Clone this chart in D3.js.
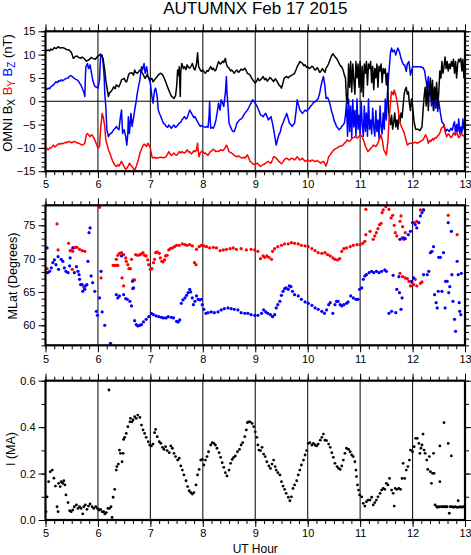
<!DOCTYPE html>
<html><head><meta charset="utf-8">
<script src="https://cdn.jsdelivr.net/npm/d3@7"></script>
<style>
html,body{margin:0;padding:0;background:#fff;}
svg{display:block;}
text{font-family:"Liberation Sans",Arial,Helvetica,sans-serif;fill:#000;}
</style></head>
<body><svg id="c" width="471" height="555"></svg>
<script>
// ---------------- DATA ----------------
const title = "AUTUMNX Feb 17 2015";
const hourTicks = [5,6,7,8,9,10,11,12,13];
const gridHours = [6,7,8,9,10,11,12];
const imfTicks = [-15,-10,-5,0,5,10,15];
const mlatTicks = [60,65,70,75];
const curTicks = [0.0,0.2,0.4,0.6];

// OMNI Bx (black) [UT hour, nT]
const bx = [[5.00,10.6],[5.03,10.9],[5.05,11.0],[5.08,10.8],[5.10,11.2],[5.13,11.0],[5.17,11.5],[5.20,11.3],[5.25,11.7],[5.28,11.4],[5.33,11.5],[5.37,11.3],[5.40,11.1],[5.45,11.0],[5.48,10.6],[5.50,10.3],[5.53,9.2],[5.57,9.6],[5.60,9.7],[5.63,9.4],[5.67,9.2],[5.70,9.5],[5.75,9.0],[5.78,8.6],[5.83,8.9],[5.87,9.4],[5.90,9.2],[5.95,9.0],[6.00,9.7],[6.03,9.9],[6.05,10.1],[6.08,9.6],[6.10,9.0],[6.13,6.7],[6.15,4.5],[6.17,3.1],[6.20,1.0],[6.22,1.8],[6.25,2.1],[6.28,2.6],[6.30,3.1],[6.33,2.7],[6.35,3.5],[6.40,3.1],[6.43,3.9],[6.45,4.6],[6.50,4.9],[6.53,4.2],[6.55,4.2],[6.58,5.5],[6.60,6.0],[6.65,6.1],[6.68,5.6],[6.70,6.7],[6.72,6.2],[6.75,6.0],[6.78,6.4],[6.80,6.7],[6.83,6.4],[6.85,6.0],[6.88,5.3],[6.90,4.9],[6.93,5.6],[6.95,5.3],[6.98,4.9],[7.00,4.6],[7.03,4.9],[7.05,4.2],[7.08,4.6],[7.10,4.9],[7.13,5.3],[7.15,5.6],[7.18,5.9],[7.20,6.0],[7.23,5.7],[7.25,5.3],[7.28,4.5],[7.30,3.9],[7.33,3.0],[7.35,2.4],[7.38,1.6],[7.40,1.1],[7.43,0.8],[7.45,0.6],[7.48,1.2],[7.50,3.1],[7.52,6.7],[7.54,5.5],[7.55,7.4],[7.57,1.0],[7.58,6.5],[7.60,8.1],[7.63,7.0],[7.65,7.4],[7.68,6.8],[7.70,7.8],[7.73,7.2],[7.75,7.1],[7.78,7.6],[7.80,8.1],[7.83,7.0],[7.85,6.7],[7.88,8.0],[7.90,10.4],[7.92,7.4],[7.95,6.8],[7.97,6.4],[8.00,6.7],[8.03,6.2],[8.05,6.0],[8.08,6.6],[8.10,6.4],[8.13,7.0],[8.15,7.4],[8.18,6.8],[8.20,7.1],[8.23,6.5],[8.25,6.7],[8.28,7.8],[8.30,8.5],[8.33,8.0],[8.35,8.1],[8.38,8.6],[8.40,8.3],[8.43,9.2],[8.45,8.0],[8.47,7.4],[8.50,7.1],[8.53,6.5],[8.55,6.7],[8.58,6.3],[8.60,6.0],[8.63,6.5],[8.65,6.7],[8.68,6.2],[8.70,6.4],[8.73,6.9],[8.75,6.7],[8.78,6.8],[8.80,7.1],[8.83,6.5],[8.85,6.0],[8.88,5.8],[8.90,5.6],[8.93,5.0],[8.95,4.6],[8.98,4.2],[9.00,3.9],[9.03,4.4],[9.05,4.9],[9.08,4.4],[9.10,4.6],[9.13,5.0],[9.15,5.3],[9.18,4.6],[9.20,4.9],[9.23,4.3],[9.25,4.6],[9.28,5.1],[9.30,4.9],[9.33,4.5],[9.35,4.2],[9.38,4.8],[9.40,4.6],[9.43,4.0],[9.45,3.5],[9.48,3.2],[9.50,2.8],[9.53,4.0],[9.55,4.9],[9.58,5.2],[9.60,5.3],[9.63,5.0],[9.65,5.3],[9.68,5.5],[9.70,5.6],[9.73,5.8],[9.75,6.0],[9.78,6.8],[9.80,7.4],[9.83,8.0],[9.85,8.5],[9.88,8.3],[9.90,8.1],[9.93,7.6],[9.95,7.8],[9.98,7.3],[10.00,7.4],[10.03,7.0],[10.05,7.1],[10.08,7.5],[10.10,7.4],[10.13,6.8],[10.15,6.7],[10.18,7.2],[10.20,6.9],[10.23,6.2],[10.25,6.4],[10.28,7.0],[10.30,6.7],[10.33,6.2],[10.35,7.1],[10.38,7.6],[10.40,8.1],[10.43,9.0],[10.45,9.6],[10.48,10.2],[10.50,9.9],[10.53,9.4],[10.55,9.2],[10.58,8.6],[10.60,8.1],[10.63,7.5],[10.65,7.4],[10.68,6.5],[10.70,5.6],[10.72,5.0],[10.74,0.5],[10.76,-0.5],[10.78,8.0],[10.80,3.0],[10.82,8.5],[10.84,2.0],[10.86,8.0],[10.88,4.5],[10.90,1.5],[10.92,8.5],[10.94,5.0],[10.96,8.0],[10.98,3.0],[11.00,8.5],[11.02,2.0],[11.04,7.5],[11.06,1.0],[11.08,8.0],[11.10,6.0],[11.12,8.5],[11.14,3.5],[11.16,8.0],[11.18,7.0],[11.20,8.5],[11.22,4.0],[11.24,7.5],[11.26,2.5],[11.28,7.0],[11.30,5.0],[11.32,8.0],[11.34,3.0],[11.36,7.5],[11.38,6.5],[11.40,8.0],[11.42,4.0],[11.44,7.0],[11.46,6.0],[11.48,7.0],[11.50,3.5],[11.52,6.0],[11.54,-1.5],[11.56,-3.5],[11.58,-5.0],[11.60,-3.0],[11.62,-6.0],[11.64,-4.5],[11.66,-2.5],[11.68,-5.5],[11.70,-4.0],[11.72,-6.0],[11.74,-3.0],[11.76,-4.5],[11.78,-2.5],[11.80,-3.5],[11.82,-1.0],[11.84,1.5],[11.86,2.5],[11.88,3.0],[11.90,1.5],[11.92,2.0],[11.94,-0.5],[11.96,-2.0],[11.98,0.5],[12.00,-1.0],[12.03,-4.5],[12.06,-6.0],[12.10,-6.0],[12.14,-6.3],[12.18,-5.5],[12.20,-2.0],[12.22,1.0],[12.24,3.0],[12.26,-1.0],[12.28,4.0],[12.30,-2.0],[12.32,2.5],[12.34,5.0],[12.36,0.0],[12.38,4.5],[12.40,-2.0],[12.42,3.0],[12.44,0.5],[12.46,4.0],[12.48,-1.5],[12.50,2.0],[12.52,6.5],[12.54,5.0],[12.56,8.5],[12.58,6.0],[12.60,7.5],[12.62,9.5],[12.64,7.0],[12.66,8.5],[12.68,6.5],[12.70,8.0],[12.72,7.0],[12.74,8.5],[12.76,7.5],[12.78,9.0],[12.80,6.0],[12.82,8.5],[12.84,5.0],[12.86,8.0],[12.88,9.0],[12.90,8.5],[12.92,9.2],[12.94,6.5],[12.96,9.0],[12.98,5.0],[13.00,9.0]];

// OMNI By (red)
const by = [[5.00,-9.7],[5.03,-10.2],[5.05,-10.4],[5.08,-10.0],[5.10,-10.1],[5.13,-9.7],[5.15,-9.4],[5.18,-9.8],[5.20,-9.6],[5.23,-9.3],[5.25,-9.1],[5.28,-9.2],[5.30,-9.0],[5.33,-9.1],[5.35,-9.0],[5.38,-8.8],[5.40,-8.9],[5.43,-8.7],[5.45,-8.6],[5.48,-8.8],[5.50,-8.9],[5.53,-8.7],[5.55,-8.6],[5.58,-8.8],[5.60,-8.9],[5.63,-9.0],[5.65,-9.1],[5.68,-9.3],[5.70,-9.4],[5.73,-9.2],[5.75,-9.0],[5.78,-7.2],[5.80,-6.9],[5.83,-7.3],[5.85,-7.6],[5.88,-7.2],[5.90,-7.4],[5.93,-8.0],[5.95,-8.6],[5.98,-9.4],[6.00,-10.1],[6.03,-9.7],[6.05,-6.1],[6.08,-2.6],[6.10,-3.3],[6.13,-5.4],[6.15,-8.3],[6.18,-9.5],[6.20,-10.4],[6.23,-11.2],[6.25,-11.9],[6.28,-12.8],[6.30,-13.3],[6.33,-13.8],[6.35,-14.0],[6.38,-13.6],[6.40,-13.9],[6.43,-13.3],[6.45,-12.9],[6.48,-13.6],[6.50,-14.0],[6.53,-14.6],[6.55,-14.4],[6.58,-13.8],[6.60,-13.3],[6.63,-13.8],[6.65,-14.0],[6.68,-14.5],[6.70,-14.7],[6.73,-14.0],[6.75,-13.3],[6.78,-12.2],[6.80,-11.1],[6.83,-10.3],[6.85,-9.7],[6.88,-9.2],[6.90,-9.4],[6.93,-9.7],[6.95,-9.0],[6.98,-9.5],[7.00,-10.1],[7.03,-11.9],[7.05,-12.2],[7.08,-12.0],[7.10,-12.2],[7.15,-12.1],[7.20,-12.0],[7.25,-12.1],[7.30,-11.9],[7.33,-11.3],[7.35,-10.8],[7.38,-11.4],[7.40,-11.6],[7.43,-11.3],[7.45,-11.1],[7.48,-11.5],[7.50,-11.6],[7.53,-11.2],[7.55,-10.8],[7.58,-11.1],[7.60,-10.8],[7.63,-11.0],[7.65,-11.1],[7.68,-10.8],[7.70,-10.4],[7.73,-10.9],[7.75,-10.8],[7.78,-11.3],[7.80,-11.1],[7.83,-10.6],[7.85,-10.8],[7.88,-10.5],[7.90,-9.0],[7.91,-10.5],[7.93,-11.9],[7.95,-11.1],[7.98,-10.7],[8.00,-10.8],[8.03,-11.2],[8.05,-11.1],[8.08,-11.4],[8.10,-11.6],[8.13,-11.0],[8.15,-10.8],[8.18,-10.5],[8.20,-10.3],[8.23,-10.6],[8.25,-10.8],[8.28,-10.7],[8.30,-10.8],[8.33,-10.5],[8.35,-10.4],[8.38,-10.6],[8.40,-10.4],[8.43,-9.9],[8.45,-9.4],[8.48,-10.2],[8.50,-10.8],[8.53,-11.0],[8.55,-11.1],[8.58,-11.4],[8.60,-11.6],[8.63,-11.8],[8.65,-11.9],[8.68,-11.7],[8.70,-11.9],[8.73,-12.1],[8.75,-12.2],[8.78,-12.0],[8.80,-12.2],[8.83,-11.8],[8.85,-11.5],[8.88,-12.3],[8.90,-12.9],[8.93,-13.1],[8.95,-13.4],[8.98,-13.5],[9.00,-13.6],[9.03,-13.3],[9.05,-13.4],[9.08,-13.8],[9.10,-14.0],[9.13,-13.7],[9.15,-13.6],[9.18,-13.4],[9.20,-13.3],[9.23,-13.0],[9.25,-12.9],[9.28,-13.2],[9.30,-13.3],[9.33,-12.5],[9.35,-11.9],[9.38,-12.0],[9.40,-12.2],[9.43,-12.6],[9.45,-12.9],[9.48,-13.2],[9.50,-13.4],[9.53,-13.0],[9.55,-12.6],[9.58,-12.3],[9.60,-12.2],[9.63,-12.5],[9.65,-12.6],[9.68,-12.3],[9.70,-12.2],[9.73,-12.4],[9.75,-12.6],[9.78,-12.2],[9.80,-11.9],[9.83,-12.3],[9.85,-12.6],[9.88,-12.4],[9.90,-12.2],[9.93,-12.6],[9.95,-12.9],[9.98,-12.7],[10.00,-12.6],[10.03,-12.8],[10.05,-12.9],[10.08,-12.6],[10.10,-12.7],[10.13,-12.9],[10.15,-12.9],[10.18,-12.7],[10.20,-12.9],[10.23,-13.1],[10.25,-13.3],[10.28,-13.0],[10.30,-12.9],[10.33,-13.4],[10.35,-13.9],[10.38,-12.8],[10.40,-11.9],[10.43,-11.5],[10.45,-11.1],[10.48,-10.7],[10.50,-10.4],[10.53,-10.2],[10.55,-10.1],[10.58,-9.9],[10.60,-9.7],[10.63,-9.6],[10.65,-9.6],[10.68,-9.3],[10.70,-9.0],[10.73,-8.7],[10.75,-8.3],[10.78,-8.5],[10.80,-8.6],[10.83,-8.2],[10.85,-7.9],[10.88,-7.8],[10.90,-7.6],[10.93,-7.8],[10.95,-7.9],[10.98,-7.5],[11.00,-7.2],[11.03,-7.5],[11.05,-7.9],[11.08,-8.8],[11.10,-9.7],[11.13,-10.3],[11.15,-10.8],[11.18,-10.4],[11.20,-10.1],[11.23,-9.8],[11.25,-9.4],[11.28,-9.6],[11.30,-9.7],[11.33,-9.2],[11.35,-8.6],[11.38,-7.8],[11.40,-7.2],[11.43,-8.8],[11.45,-10.4],[11.48,-11.0],[11.50,-11.5],[11.53,-8.6],[11.55,-4.4],[11.58,-0.1],[11.60,2.1],[11.63,1.4],[11.65,2.4],[11.68,1.3],[11.70,0.3],[11.73,-2.0],[11.75,-4.4],[11.78,-5.2],[11.80,-5.8],[11.83,-6.5],[11.85,-7.2],[11.88,-8.5],[11.90,-9.4],[11.93,-9.1],[11.95,-9.0],[12.00,-9.0],[12.05,-8.8],[12.10,-9.0],[12.15,-8.6],[12.20,-8.3],[12.23,-7.6],[12.25,-7.2],[12.28,-8.0],[12.30,-9.0],[12.33,-8.4],[12.35,-8.6],[12.38,-8.0],[12.40,-8.3],[12.43,-7.8],[12.45,-7.9],[12.48,-7.4],[12.50,-7.2],[12.53,-6.5],[12.55,-5.8],[12.58,-5.5],[12.60,-5.1],[12.62,-6.5],[12.65,-7.6],[12.68,-7.0],[12.70,-7.2],[12.73,-7.8],[12.75,-7.6],[12.78,-6.8],[12.80,-7.2],[12.83,-6.5],[12.85,-6.9],[12.88,-7.8],[12.90,-7.6],[12.93,-7.0],[12.95,-7.2],[12.98,-7.5],[13.00,-7.9]];

// OMNI Bz (blue)
const bz = [[5.00,2.4],[5.03,2.6],[5.05,2.8],[5.08,2.7],[5.10,3.1],[5.13,3.3],[5.15,3.5],[5.18,3.9],[5.20,4.2],[5.23,4.0],[5.25,4.4],[5.28,4.3],[5.30,4.6],[5.33,4.4],[5.35,4.6],[5.38,4.8],[5.40,4.9],[5.43,5.0],[5.45,5.3],[5.48,5.5],[5.50,5.4],[5.53,5.1],[5.55,4.9],[5.58,4.7],[5.60,4.6],[5.63,4.3],[5.65,3.9],[5.68,3.4],[5.70,2.8],[5.73,2.0],[5.75,1.0],[5.76,5.0],[5.77,7.4],[5.80,8.1],[5.82,7.0],[5.83,7.1],[5.85,7.8],[5.87,6.5],[5.90,4.6],[5.93,3.5],[5.95,3.1],[5.98,3.0],[6.00,2.8],[6.03,4.6],[6.05,9.6],[6.08,9.9],[6.10,8.1],[6.12,5.0],[6.13,1.7],[6.15,-1.1],[6.17,-6.1],[6.20,-7.6],[6.23,-7.0],[6.25,-6.9],[6.28,-6.5],[6.30,-6.1],[6.33,-5.8],[6.35,-5.4],[6.38,-5.9],[6.40,-6.1],[6.43,-3.3],[6.45,-1.9],[6.47,-6.9],[6.50,-6.1],[6.53,-7.6],[6.55,-9.4],[6.57,-7.0],[6.58,-3.3],[6.60,-6.9],[6.62,-4.0],[6.63,-2.6],[6.65,-5.4],[6.68,-3.5],[6.70,-1.9],[6.73,0.0],[6.75,1.7],[6.78,3.5],[6.80,4.6],[6.83,7.4],[6.85,6.7],[6.88,8.1],[6.90,6.0],[6.93,7.4],[6.95,5.6],[6.98,4.5],[7.00,3.9],[7.03,1.0],[7.05,-0.4],[7.08,2.4],[7.10,2.8],[7.13,1.0],[7.15,-1.9],[7.18,-2.8],[7.20,-3.3],[7.23,-4.2],[7.25,-4.7],[7.28,-5.0],[7.30,-5.4],[7.33,-5.6],[7.35,-5.1],[7.38,-5.5],[7.40,-5.8],[7.43,-5.3],[7.45,-5.1],[7.48,-5.6],[7.50,-5.4],[7.53,-5.0],[7.55,-4.7],[7.58,-4.5],[7.60,-4.0],[7.63,-3.6],[7.65,-3.3],[7.68,-3.8],[7.70,-3.6],[7.73,-2.6],[7.75,-1.9],[7.78,-2.5],[7.80,-2.9],[7.83,-3.5],[7.85,-3.3],[7.88,-4.0],[7.90,-4.4],[7.93,-5.0],[7.95,-5.4],[7.98,-5.2],[8.00,-5.4],[8.03,-5.5],[8.05,-5.6],[8.08,-5.4],[8.10,-5.6],[8.12,-3.0],[8.13,0.0],[8.14,-3.5],[8.15,-5.8],[8.18,-5.6],[8.20,-5.8],[8.23,-5.0],[8.25,-4.0],[8.28,-2.0],[8.30,-0.4],[8.33,-1.9],[8.35,0.3],[8.38,-0.5],[8.40,-1.1],[8.42,1.0],[8.43,1.7],[8.45,5.3],[8.46,2.0],[8.48,-1.1],[8.50,-4.7],[8.53,-5.5],[8.55,-6.1],[8.58,-6.5],[8.60,-6.5],[8.63,-5.5],[8.65,-4.7],[8.68,-4.3],[8.70,-4.0],[8.73,-3.8],[8.75,-3.6],[8.78,-3.0],[8.80,-2.6],[8.83,-2.2],[8.85,-1.9],[8.88,-1.3],[8.90,-0.8],[8.93,-0.2],[8.95,0.3],[8.98,0.0],[9.00,-0.4],[9.03,-1.0],[9.05,-1.5],[9.08,-2.3],[9.10,-2.9],[9.13,-3.1],[9.15,-3.3],[9.18,-2.8],[9.20,-2.6],[9.23,-3.4],[9.25,-4.0],[9.28,-3.6],[9.30,-3.3],[9.33,-4.8],[9.35,-6.1],[9.38,-8.0],[9.40,-9.4],[9.43,-8.0],[9.45,-7.2],[9.48,-6.5],[9.50,-5.4],[9.53,-4.6],[9.55,-4.0],[9.58,-3.2],[9.60,-2.6],[9.63,-3.8],[9.65,-4.7],[9.68,-5.0],[9.70,-5.4],[9.73,-5.0],[9.75,-4.7],[9.78,-2.0],[9.80,0.3],[9.83,-1.0],[9.85,-1.9],[9.88,-2.3],[9.90,-2.6],[9.93,-2.2],[9.95,-1.9],[9.98,-2.1],[10.00,-1.9],[10.03,-1.5],[10.05,-1.1],[10.08,-0.8],[10.10,-0.4],[10.13,-0.2],[10.15,0.0],[10.18,0.3],[10.20,0.6],[10.23,1.8],[10.25,3.1],[10.28,4.5],[10.30,5.3],[10.32,4.0],[10.33,3.1],[10.35,0.6],[10.38,0.8],[10.40,0.3],[10.43,-0.8],[10.45,-1.9],[10.48,-3.0],[10.50,-4.0],[10.53,-4.8],[10.55,-5.4],[10.58,-5.8],[10.60,-6.1],[10.63,-5.8],[10.65,-5.4],[10.68,-5.0],[10.70,-4.7],[10.72,-3.0],[10.74,-0.4],[10.76,-7.5],[10.78,0.5],[10.80,-6.5],[10.82,-1.0],[10.84,-8.0],[10.86,0.3],[10.88,-5.5],[10.90,-2.0],[10.92,-7.5],[10.94,0.5],[10.96,-6.0],[10.98,-3.0],[11.00,-7.0],[11.02,0.0],[11.04,-5.0],[11.06,-7.5],[11.08,-1.0],[11.10,-6.5],[11.12,-2.5],[11.14,-7.5],[11.16,0.5],[11.18,-6.0],[11.20,-4.0],[11.22,-7.0],[11.24,-1.5],[11.26,-5.5],[11.28,-7.5],[11.30,-2.0],[11.32,-6.5],[11.34,-4.0],[11.36,-8.0],[11.38,-1.0],[11.40,-5.5],[11.42,-7.0],[11.44,-2.5],[11.46,-6.0],[11.48,0.5],[11.50,-4.0],[11.52,1.5],[11.55,6.4],[11.58,10.5],[11.60,11.4],[11.62,10.6],[11.65,11.0],[11.68,9.9],[11.70,10.8],[11.72,11.4],[11.75,10.6],[11.78,9.2],[11.80,8.5],[11.83,7.8],[11.85,7.8],[11.88,6.4],[11.90,8.0],[11.93,8.5],[11.96,5.6],[12.00,7.4],[12.05,7.4],[12.10,7.4],[12.15,7.4],[12.20,7.2],[12.23,6.5],[12.25,4.9],[12.28,3.0],[12.30,5.3],[12.32,1.4],[12.34,3.5],[12.36,-1.0],[12.38,2.5],[12.40,-2.0],[12.42,3.0],[12.44,-1.5],[12.46,1.0],[12.48,-2.2],[12.50,0.0],[12.53,-2.5],[12.56,-4.4],[12.60,-5.0],[12.63,-6.5],[12.66,-6.0],[12.70,-6.5],[12.73,-5.8],[12.76,-6.2],[12.78,-5.0],[12.80,-4.4],[12.82,-7.2],[12.84,-5.0],[12.86,-6.5],[12.88,-3.8],[12.90,-7.0],[12.92,-5.5],[12.94,-6.8],[12.96,-3.8],[12.98,-6.0],[13.00,-5.8]];

// MLat, poleward (red) and equatorward (blue) boundaries [UT hour, degrees]
const mlatRed = [[5.03,68.5],[5.22,75.2],[5.24,71.3],[5.44,72.3],[5.47,71.2],[5.49,71.2],[5.51,68.4],[5.52,71.1],[5.53,71.6],[5.57,71.7],[5.60,71.7],[5.65,71.4],[5.70,71.2],[5.73,65.7],[5.75,71.1],[6.03,77.7],[6.06,67.1],[6.29,69.0],[6.32,69.0],[6.35,69.0],[6.38,69.0],[6.35,69.9],[6.38,70.5],[6.41,70.8],[6.45,70.9],[6.49,70.6],[6.46,67.1],[6.49,65.9],[6.53,70.1],[6.54,69.6],[6.57,69.1],[6.59,68.5],[6.62,68.5],[6.64,69.9],[6.66,65.5],[6.67,66.8],[6.70,66.8],[6.72,70.6],[6.76,70.5],[6.80,70.6],[6.83,70.7],[6.86,70.9],[6.89,70.5],[6.92,70.4],[6.95,69.8],[6.97,69.1],[7.00,68.4],[7.03,68.5],[7.06,69.4],[7.08,69.9],[7.10,70.9],[7.13,71.0],[7.17,70.8],[7.19,70.1],[7.22,69.6],[7.24,69.5],[7.27,69.8],[7.29,70.4],[7.32,70.5],[7.35,71.3],[7.38,71.5],[7.42,71.6],[7.46,71.8],[7.50,72.0],[7.55,72.0],[7.61,72.2],[7.66,72.1],[7.70,72.0],[7.75,72.1],[7.80,71.9],[7.84,69.4],[7.87,69.1],[7.88,71.4],[7.93,71.8],[7.97,72.0],[8.02,71.9],[8.07,71.8],[8.13,71.6],[8.20,71.7],[8.26,71.6],[8.33,71.2],[8.39,71.3],[8.45,71.4],[8.52,71.5],[8.58,71.6],[8.64,71.4],[8.73,71.5],[8.83,71.3],[8.92,71.4],[8.99,71.3],[9.05,71.1],[9.10,70.0],[9.15,70.4],[9.18,70.2],[9.22,70.4],[9.26,70.2],[9.31,69.9],[9.33,71.1],[9.37,71.5],[9.43,71.8],[9.50,72.0],[9.56,72.2],[9.63,72.2],[9.69,72.4],[9.75,72.3],[9.82,72.2],[9.88,72.0],[9.95,71.9],[10.01,71.8],[10.08,71.5],[10.14,71.2],[10.20,70.9],[10.27,70.8],[10.33,70.9],[10.38,70.6],[10.43,70.4],[10.48,70.1],[10.52,69.9],[10.57,69.8],[10.61,70.0],[10.65,71.1],[10.69,71.5],[10.74,71.6],[10.81,71.8],[10.87,72.0],[10.94,72.1],[11.00,72.1],[11.05,72.3],[11.09,72.6],[11.11,77.4],[11.11,73.6],[11.19,74.1],[11.25,72.9],[11.28,73.4],[11.31,73.9],[11.34,74.5],[11.37,75.1],[11.40,75.3],[11.42,76.9],[11.44,77.3],[11.49,77.8],[11.55,77.4],[11.59,76.1],[11.62,76.5],[11.65,75.0],[11.67,73.9],[11.70,73.4],[11.76,75.6],[11.78,76.4],[11.81,74.8],[11.80,73.1],[11.83,72.9],[11.86,73.9],[11.76,67.8],[11.81,67.3],[11.86,67.1],[11.90,67.0],[11.93,66.6],[11.96,65.9],[11.99,66.4],[12.02,66.1],[12.05,66.9],[12.08,65.9],[12.15,66.3],[12.18,66.5],[12.03,75.4],[12.08,75.6],[12.15,77.3],[12.21,77.3],[12.68,76.5],[12.85,73.6]];
const mlatBlue = [[5.03,71.6],[5.04,67.9],[5.08,68.1],[5.11,68.6],[5.14,69.4],[5.17,69.8],[5.20,69.1],[5.24,70.3],[5.25,68.4],[5.30,69.9],[5.33,69.6],[5.36,68.6],[5.39,68.1],[5.43,67.9],[5.46,68.9],[5.47,70.1],[5.52,71.6],[5.55,67.9],[5.59,68.8],[5.62,68.1],[5.64,67.6],[5.65,66.9],[5.67,66.1],[5.70,66.1],[5.71,65.1],[5.75,65.4],[5.76,65.9],[5.79,66.1],[5.81,69.6],[5.83,73.9],[5.85,74.6],[5.87,67.4],[5.90,66.4],[5.94,65.1],[5.97,62.1],[5.99,61.5],[6.03,64.1],[6.06,68.1],[6.08,62.0],[6.13,60.0],[6.24,57.3],[6.35,64.6],[6.38,64.1],[6.41,64.4],[6.45,70.4],[6.49,64.6],[6.53,64.0],[6.56,63.9],[6.61,63.6],[6.64,62.9],[6.66,66.6],[6.68,65.6],[6.70,60.7],[6.73,60.1],[6.76,59.9],[6.80,60.0],[6.83,60.1],[6.87,60.5],[6.92,60.9],[6.97,61.3],[7.02,61.8],[7.06,61.6],[7.11,61.4],[7.16,61.3],[7.21,61.2],[7.25,61.1],[7.30,61.1],[7.34,61.3],[7.40,61.2],[7.44,61.1],[7.50,60.6],[7.53,60.5],[7.56,60.8],[7.59,63.3],[7.62,63.8],[7.66,64.1],[7.69,64.5],[7.72,64.9],[7.75,65.4],[7.77,65.0],[7.80,64.1],[7.82,63.1],[7.85,63.6],[7.88,64.4],[7.91,63.9],[7.94,63.8],[7.97,63.9],[7.99,63.1],[8.02,62.4],[8.06,61.8],[8.10,61.9],[8.16,62.0],[8.22,61.9],[8.29,62.0],[8.35,62.3],[8.41,62.5],[8.48,62.6],[8.54,62.5],[8.60,62.4],[8.67,62.3],[8.73,61.9],[8.80,61.8],[8.86,61.8],[8.92,61.6],[8.99,61.5],[9.05,61.5],[9.12,61.8],[9.16,62.3],[9.20,62.0],[9.24,61.8],[9.29,61.6],[9.33,61.3],[9.37,61.6],[9.40,62.6],[9.43,63.1],[9.47,63.6],[9.50,64.5],[9.53,65.1],[9.56,65.5],[9.59,65.6],[9.63,65.4],[9.65,65.9],[9.68,65.8],[9.71,65.1],[9.75,64.6],[9.82,64.4],[9.88,63.9],[9.95,63.5],[10.01,63.3],[10.08,63.0],[10.14,62.6],[10.20,62.4],[10.27,62.1],[10.32,61.8],[10.36,62.3],[10.40,63.1],[10.43,63.4],[10.48,61.8],[10.52,63.1],[10.55,63.6],[10.58,63.6],[10.62,63.1],[10.65,62.9],[10.69,63.1],[10.74,63.3],[10.77,63.5],[10.82,64.4],[10.87,64.1],[10.92,63.9],[10.96,63.9],[10.99,65.4],[11.03,65.6],[11.06,66.9],[11.09,67.4],[11.12,67.6],[11.17,67.9],[11.22,68.1],[11.26,67.9],[11.31,68.1],[11.36,67.9],[11.41,68.1],[11.47,68.3],[11.50,68.1],[11.55,61.8],[11.60,62.1],[11.63,67.5],[11.68,61.9],[11.70,65.4],[11.74,67.3],[11.76,72.9],[11.75,64.9],[11.80,64.1],[11.78,62.4],[11.83,73.1],[11.86,73.0],[11.92,73.6],[11.96,74.1],[11.98,66.6],[12.00,75.4],[12.02,67.1],[12.05,75.1],[12.08,74.6],[12.12,75.4],[12.15,76.4],[12.18,76.9],[12.21,77.3],[12.21,67.6],[12.28,67.6],[12.31,68.1],[12.34,70.9],[12.37,71.1],[12.40,71.8],[12.42,64.6],[12.45,63.4],[12.47,62.6],[12.49,65.1],[12.50,70.2],[12.53,70.2],[12.56,65.1],[12.59,70.9],[12.62,62.6],[12.63,66.6],[12.66,66.6],[12.68,75.4],[12.69,64.9],[12.71,65.8],[12.74,74.1],[12.75,67.6],[12.77,63.6],[12.80,60.9],[12.82,59.1],[12.85,69.6],[12.87,67.6],[12.89,63.4],[12.90,62.1],[12.92,61.6],[12.93,67.8]];

// Total current I [UT hour, MA]
const current = [[5.01,0.036],[5.03,0.10],[5.06,0.165],[5.09,0.208],[5.13,0.215],[5.16,0.18],[5.19,0.146],[5.22,0.057],[5.24,0.036],[5.25,0.158],[5.28,0.144],[5.30,0.165],[5.33,0.158],[5.35,0.169],[5.37,0.151],[5.39,0.108],[5.43,0.075],[5.46,0.04],[5.49,0.036],[5.52,0.043],[5.55,0.057],[5.59,0.065],[5.62,0.05],[5.65,0.057],[5.68,0.05],[5.71,0.026],[5.73,0.057],[5.76,0.065],[5.79,0.046],[5.82,0.06],[5.85,0.069],[5.89,0.057],[5.92,0.05],[5.96,0.057],[5.99,0.05],[6.02,0.043],[6.05,0.046],[6.08,0.036],[6.11,0.036],[6.13,0.026],[6.16,0.032],[6.19,0.05],[6.21,0.56],[6.22,0.05],[6.25,0.057],[6.27,0.011],[6.29,0.098],[6.32,0.132],[6.35,0.215],[6.36,0.23],[6.39,0.241],[6.41,0.301],[6.43,0.287],[6.46,0.251],[6.48,0.287],[6.49,0.347],[6.51,0.356],[6.54,0.373],[6.57,0.402],[6.61,0.423],[6.62,0.438],[6.65,0.423],[6.67,0.431],[6.70,0.445],[6.73,0.438],[6.76,0.452],[6.80,0.442],[6.83,0.409],[6.86,0.388],[6.89,0.373],[6.92,0.356],[6.96,0.337],[6.99,0.323],[7.02,0.319],[7.05,0.327],[7.08,0.376],[7.10,0.39],[7.13,0.359],[7.17,0.337],[7.20,0.33],[7.23,0.313],[7.26,0.304],[7.29,0.316],[7.32,0.299],[7.36,0.29],[7.39,0.319],[7.42,0.309],[7.45,0.287],[7.48,0.273],[7.52,0.258],[7.55,0.266],[7.58,0.233],[7.61,0.215],[7.64,0.194],[7.68,0.169],[7.71,0.144],[7.74,0.126],[7.77,0.118],[7.80,0.112],[7.83,0.118],[7.87,0.151],[7.90,0.194],[7.93,0.218],[7.96,0.258],[7.99,0.261],[8.02,0.237],[8.05,0.258],[8.08,0.273],[8.11,0.294],[8.15,0.323],[8.18,0.333],[8.21,0.33],[8.24,0.323],[8.27,0.309],[8.31,0.29],[8.34,0.27],[8.37,0.247],[8.40,0.227],[8.43,0.204],[8.46,0.19],[8.50,0.215],[8.53,0.244],[8.56,0.261],[8.59,0.27],[8.62,0.276],[8.66,0.294],[8.70,0.304],[8.73,0.323],[8.76,0.333],[8.80,0.359],[8.83,0.388],[8.85,0.419],[8.87,0.423],[8.90,0.423],[8.94,0.416],[8.97,0.402],[9.00,0.38],[9.03,0.356],[9.05,0.323],[9.07,0.301],[9.10,0.299],[9.13,0.313],[9.16,0.284],[9.19,0.273],[9.22,0.251],[9.26,0.233],[9.29,0.222],[9.32,0.241],[9.35,0.258],[9.38,0.23],[9.40,0.215],[9.43,0.204],[9.47,0.194],[9.50,0.165],[9.53,0.146],[9.56,0.132],[9.59,0.115],[9.63,0.098],[9.66,0.083],[9.69,0.10],[9.72,0.136],[9.75,0.151],[9.79,0.169],[9.82,0.194],[9.85,0.215],[9.88,0.237],[9.92,0.258],[9.95,0.28],[9.98,0.299],[10.01,0.33],[10.04,0.333],[10.08,0.323],[10.11,0.33],[10.14,0.323],[10.17,0.319],[10.20,0.327],[10.24,0.344],[10.27,0.356],[10.30,0.37],[10.33,0.344],[10.36,0.342],[10.40,0.327],[10.43,0.313],[10.46,0.29],[10.49,0.27],[10.52,0.244],[10.56,0.23],[10.59,0.222],[10.62,0.218],[10.65,0.233],[10.68,0.258],[10.71,0.287],[10.74,0.309],[10.78,0.304],[10.81,0.294],[10.84,0.28],[10.87,0.273],[10.90,0.251],[10.92,0.215],[10.93,0.187],[10.95,0.151],[10.97,0.129],[10.99,0.108],[11.03,0.10],[11.06,0.072],[11.09,0.06],[11.12,0.079],[11.15,0.086],[11.19,0.086],[11.22,0.098],[11.25,0.065],[11.28,0.075],[11.31,0.086],[11.34,0.10],[11.38,0.115],[11.41,0.129],[11.44,0.136],[11.47,0.132],[11.50,0.158],[11.53,0.151],[11.56,0.179],[11.60,0.129],[11.63,0.115],[11.65,0.06],[11.67,0.136],[11.70,0.132],[11.74,0.136],[11.77,0.132],[11.80,0.179],[11.82,0.244],[11.85,0.179],[11.88,0.215],[11.91,0.23],[11.94,0.258],[11.96,0.301],[12.00,0.294],[12.03,0.316],[12.06,0.352],[12.09,0.352],[12.12,0.33],[12.14,0.287],[12.16,0.309],[12.18,0.323],[12.20,0.37],[12.22,0.301],[12.24,0.287],[12.27,0.258],[12.29,0.218],[12.32,0.273],[12.34,0.208],[12.36,0.158],[12.38,0.201],[12.40,0.287],[12.41,0.201],[12.43,0.065],[12.46,0.057],[12.48,0.055],[12.51,0.057],[12.52,0.319],[12.52,0.165],[12.55,0.057],[12.58,0.057],[12.60,0.419],[12.61,0.057],[12.63,0.057],[12.66,0.057],[12.68,0.33],[12.70,0.029],[12.72,0.057],[12.74,0.276],[12.75,0.057],[12.78,0.055],[12.81,0.057],[12.84,0.055],[12.87,0.083],[12.88,0.055],[12.91,0.057],[12.94,0.055],[12.97,0.057]];

// ---------------- DRAWING ----------------
const svg = d3.select("#c");
const X0 = 45.5, X1 = 465;
const x = d3.scaleLinear().domain([5,13]).range([X0,X1]);
const minorHours = d3.range(5, 13.0001, 1/6);
const font = '"Liberation Sans",Arial,Helvetica,sans-serif';

svg.append("text").attr("x", (X0+X1)/2).attr("y", 13.5).attr("text-anchor","middle")
  .style("font-size","17px").text(title);

function panel(top, bottom, yDomain, yTicks, yMinor, fmt){
  const y = d3.scaleLinear().domain(yDomain).range([bottom, top]);
  const g = svg.append("g");
  g.selectAll("line.grid").data(gridHours).join("line")
    .attr("x1", d=>x(d)).attr("x2", d=>x(d)).attr("y1", top).attr("y2", bottom)
    .attr("stroke","#1a1a1a").attr("stroke-width",1.1);
  const axes = [
    [d3.axisBottom(x).tickValues(hourTicks).tickSize(7).tickPadding(2.5).tickFormat(d3.format("d")), `translate(0,${bottom})`],
    [d3.axisBottom(x).tickValues(minorHours).tickSize(4).tickFormat(""), `translate(0,${bottom})`],
    [d3.axisTop(x).tickValues(hourTicks).tickSize(7).tickFormat(""), `translate(0,${top})`],
    [d3.axisTop(x).tickValues(minorHours).tickSize(4).tickFormat(""), `translate(0,${top})`],
    [d3.axisLeft(y).tickValues(yTicks).tickSize(7).tickPadding(3).tickFormat(fmt), `translate(${X0},0)`],
    [d3.axisLeft(y).tickValues(yMinor).tickSize(4).tickFormat(""), `translate(${X0},0)`],
    [d3.axisRight(y).tickValues(yTicks).tickSize(7).tickFormat(""), `translate(${X1},0)`],
    [d3.axisRight(y).tickValues(yMinor).tickSize(4).tickFormat(""), `translate(${X1},0)`]
  ];
  axes.forEach(([ax, tr]) => {
    const a = g.append("g").attr("transform", tr).call(ax);
    a.select(".domain").remove();
    a.selectAll("line").attr("stroke","#000").attr("stroke-width",1);
    a.selectAll("text").style("font-family", font).style("font-size","11px").attr("fill","#000");
  });
  return {g, y, top, bottom};
}
function frame(p){
  p.g.append("rect").attr("x",X0).attr("y",p.top).attr("width",X1-X0).attr("height",p.bottom-p.top)
    .attr("fill","none").attr("stroke","#000").attr("stroke-width",2.2);
}

// Panel 1: OMNI IMF
const p1 = panel(31.3, 171.2, [-15,15], imfTicks, d3.range(-15,15.001,1), d3.format("d"));
p1.g.append("line").attr("x1",X0).attr("x2",X1).attr("y1",p1.y(0)).attr("y2",p1.y(0))
  .attr("stroke","#000").attr("stroke-width",1.2);
svg.append("clipPath").attr("id","clip1").append("rect")
  .attr("x",X0).attr("y",p1.top).attr("width",X1-X0).attr("height",p1.bottom-p1.top);
const line = d3.line().x(d=>x(d[0])).y(d=>p1.y(d[1]));
[[bz,"#0000ff"],[bx,"#000000"],[by,"#ff0000"]].forEach(([s,c]) => {
  p1.g.append("path").datum(s).attr("d", line).attr("fill","none").attr("stroke",c)
    .attr("stroke-width",1.5).attr("stroke-linejoin","round").attr("clip-path","url(#clip1)");
});
frame(p1);
const lab1 = svg.append("text").attr("transform","translate(11.5,93) rotate(-90)")
  .attr("text-anchor","middle").style("font-size","13px");
lab1.append("tspan").text("OMNI B");
lab1.append("tspan").attr("dy",3).style("font-size","10px").text("X");
lab1.append("tspan").attr("dy",-3).attr("fill","#ff0000").text(" B");
lab1.append("tspan").attr("dy",3).attr("fill","#ff0000").style("font-size","10px").text("Y");
lab1.append("tspan").attr("dy",-3).attr("fill","#0000ff").text(" B");
lab1.append("tspan").attr("dy",3).attr("fill","#0000ff").style("font-size","10px").text("Z");
lab1.append("tspan").attr("dy",-3).text(" (nT)");

// Panel 2: MLat
const p2 = panel(205.3, 345.3, [57,78], mlatTicks, d3.range(57,78.001,1), d3.format("d"));
svg.append("clipPath").attr("id","clip2").append("rect")
  .attr("x",X0).attr("y",p2.top).attr("width",X1-X0).attr("height",p2.bottom-p2.top);
[[mlatRed,"#ff0000"],[mlatBlue,"#0000ff"]].forEach(([s,c]) => {
  p2.g.append("g").attr("clip-path","url(#clip2)").selectAll("circle").data(s).join("circle")
    .attr("cx", d=>x(d[0])).attr("cy", d=>p2.y(d[1])).attr("r",1.6).attr("fill",c);
});
frame(p2);
svg.append("text").attr("transform","translate(16.5,276) rotate(-90)")
  .attr("text-anchor","middle").style("font-size","12.5px").text("MLat (Degrees)");

// Panel 3: current
const p3 = panel(380.7, 520, [0,0.6], curTicks, d3.range(0,0.6001,0.1), d3.format(".1f"));
p3.g.append("g").selectAll("circle").data(current).join("circle")
  .attr("cx", d=>x(d[0])).attr("cy", d=>p3.y(d[1])).attr("r",1.4).attr("fill","#000");
frame(p3);
svg.append("text").attr("transform","translate(15,449) rotate(-90)")
  .attr("text-anchor","middle").style("font-size","12.5px").text("I (MA)");
svg.append("text").attr("x",(X0+X1)/2).attr("y",552.5).attr("text-anchor","middle")
  .style("font-size","12px").text("UT Hour");
</script></body></html>
